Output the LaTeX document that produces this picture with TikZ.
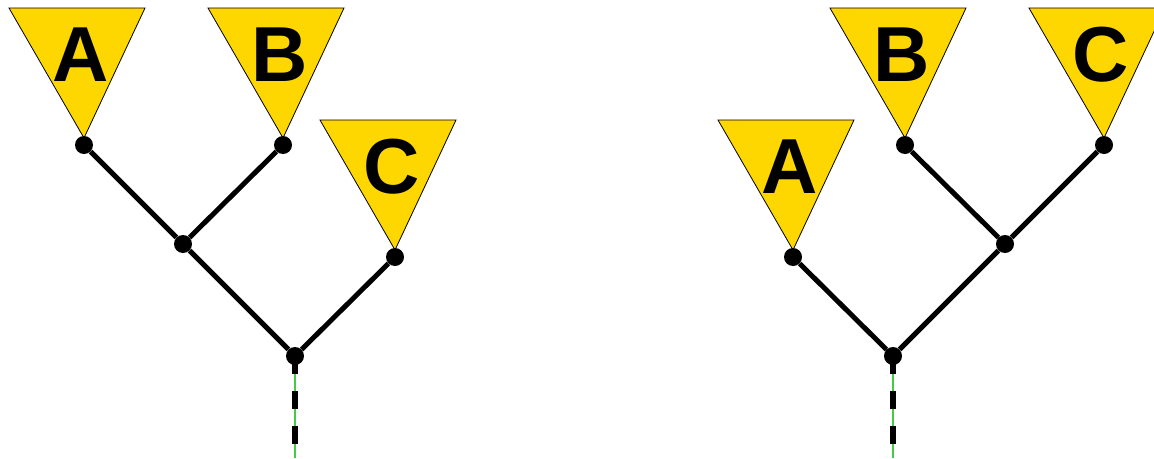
\documentclass[tikz,border=0pt]{standalone}
\usepackage{fontspec}
\setsansfont{Liberation Sans}
\definecolor{cladeyellow}{HTML}{FFD700}
\definecolor{stemgreen}{HTML}{44CC44}

\begin{document}
\begin{tikzpicture}[
  x=1pt, y=-1pt,
  clade/.style={draw=black, line width=0.8pt, fill=cladeyellow},
  branch/.style={line width=5pt, draw=black},
  dot/.style={circle, fill=black, inner sep=0pt, minimum size=18pt},
  tag/.style={font=\sffamily\bfseries\fontsize{78}{78}\selectfont, inner sep=0pt},
  guide/.style={draw=stemgreen, line width=1.3pt},
  stem/.style={draw=black, line width=6pt, dash pattern=on 18pt off 17pt}
]
\clip (0,0) rectangle (1154,458);

% clades: apex x / apex y / letter / name
\foreach \x/\y/\t/\n in {84/138/A/lA, 283/138/B/lB, 395/250/C/lC,
                         793/250/A/rA, 905/138/B/rB, 1104/138/C/rC} {
  \filldraw[clade] (\x-75,\y-130) -- (\x+61,\y-130) -- (\x,\y) -- cycle;
  \node[tag] at (\x-3,\y-83) {\t};
  \node[dot] (\n) at (\x,\y+7) {};
}

% left tree ((A,B),C)
\node[dot] (lAB) at (183,244) {};
\node[dot] (lroot) at (295,356) {};
\coordinate (lend) at (295,458);
\draw[branch] (lA) -- (lAB);
\draw[branch] (lB) -- (lAB);
\draw[branch] (lAB) -- (lroot);
\draw[branch] (lC) -- (lroot);
\draw[guide] (lroot.center) -- (lend);
\draw[stem] (lroot.center) -- (lend);

% right tree (A,(B,C))
\node[dot] (rBC) at (1005,244) {};
\node[dot] (rroot) at (893,356) {};
\coordinate (rend) at (893,458);
\draw[branch] (rB) -- (rBC);
\draw[branch] (rC) -- (rBC);
\draw[branch] (rBC) -- (rroot);
\draw[branch] (rA) -- (rroot);
\draw[guide] (rroot.center) -- (rend);
\draw[stem] (rroot.center) -- (rend);

\end{tikzpicture}
\end{document}
